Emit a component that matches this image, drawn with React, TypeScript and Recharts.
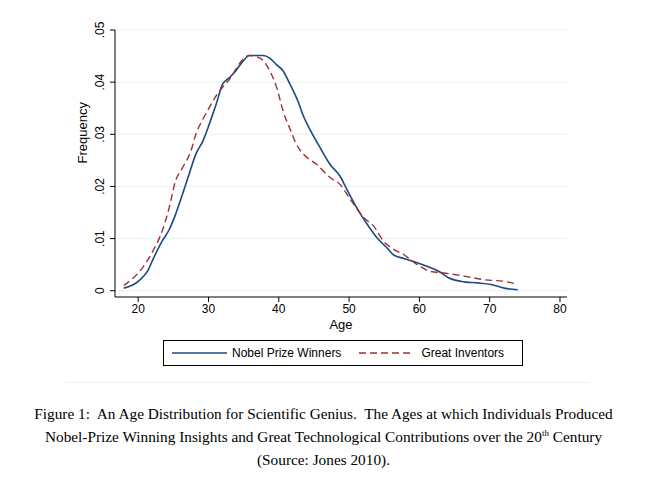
import React from "react";
import { LineChart, Line, XAxis, YAxis, CartesianGrid } from "recharts";

const nobelAge = [17.95,20.1,21.3,22.2,23.4,24.4,25.3,26.3,27.3,28.2,29.2,30.1,31.1,32.0,33.0,33.9,34.9,35.8,36.8,37.8,38.7,39.7,40.6,41.6,42.8,43.5,44.4,45.9,47.3,48.7,49.7,51.1,52.6,54.0,55.4,56.4,57.8,59.2,61.1,62.8,64.0,66.4,68.3,70.2,72.1,74.0];
const nobelFreq = [.0005,.0019,.0037,.0063,.0095,.0117,.0146,.0185,.0226,.0262,.0287,.0319,.0358,.0396,.0409,.0422,.044,.0451,.0451,.0451,.0446,.0433,.0422,.0396,.0361,.0335,.031,.0274,.0242,.022,.0194,.0159,.0127,.0101,.0082,.0068,.0062,.0056,.0047,.0037,.0026,.0017,.0015,.0012,.0005,.0002];
const invAge = [17.95,20.6,22.2,23.4,24.4,25.3,26.3,27.5,28.2,29.2,30.1,31.1,32.0,33.0,33.9,34.9,35.8,36.8,37.8,38.7,39.7,40.6,41.6,42.5,43.5,45.4,47.3,48.7,50.2,52.1,53.5,54.9,56.4,57.8,59.7,61.6,63.5,66.4,69.3,72.1,74.0];
const invFreq = [.001,.0044,.0079,.0114,.0159,.021,.0236,.0268,.03,.0329,.0351,.0374,.039,.0406,.0425,.0444,.0451,.0449,.0441,.0422,.039,.0345,.031,.0281,.0262,.0242,.0217,.0204,.0175,.014,.0124,.0095,.0079,.0069,.005,.0037,.0034,.0028,.0021,.0018,.0012];
const xTicks = [20, 30, 40, 50, 60, 70, 80];
const yTicks = [0, 0.01, 0.02, 0.03, 0.04, 0.05];
const yLabels = ["0", ".01", ".02", ".03", ".04", ".05"];

const nobel = nobelAge.map((a, i) => ({ age: a, f: nobelFreq[i] }));
const inv = invAge.map((a, i) => ({ age: a, f: invFreq[i] }));

const YTick = (p: any) => {
  const i = yTicks.findIndex((t) => Math.abs(t - p.payload.value) < 1e-9);
  return (
    <text x={p.x - 4} y={p.y} transform={`rotate(-90 ${p.x - 4} ${p.y})`} textAnchor="middle" fontSize={12} fontFamily="Liberation Sans, Arial" fill="#000">
      {yLabels[i]}
    </text>
  );
};

export default function App() {
  return (
    <div style={{ position: "absolute", left: 0, top: 0, width: 647, height: 481, background: "#fff", fontFamily: "Liberation Serif, Times New Roman, serif" }}>
      <LineChart width={647} height={340} margin={{ top: 30, right: 80, bottom: 3, left: 70 }}>
        <CartesianGrid horizontal vertical={false} stroke="#e8f0f0" horizontalValues={yTicks} />
        <XAxis type="number" dataKey="age" domain={[16.7, 81]} ticks={xTicks} allowDataOverflow height={40}
          stroke="#000" tick={{ fontSize: 12, fill: "#000", fontFamily: "Liberation Sans, Arial" }} tickSize={5}
          label={{ value: "Age", position: "insideBottom", offset: 8, fontSize: 13, fill: "#000", fontFamily: "Liberation Sans, Arial" }} />
        <YAxis type="number" domain={[-0.0012, 0.05]} ticks={yTicks} allowDataOverflow width={45}
          stroke="#000" tick={<YTick />} tickSize={5}
          label={{ value: "Frequency", angle: -90, position: "insideLeft", offset: 12, fontSize: 13, fill: "#000", fontFamily: "Liberation Sans, Arial" }} />
        <Line data={nobel} dataKey="f" stroke="#1a4a80" strokeWidth={1.6} dot={false} isAnimationActive={false} type="monotone" />
        <Line data={inv} dataKey="f" stroke="#a03030" strokeWidth={1.4} strokeDasharray="7 4" dot={false} isAnimationActive={false} type="monotone" />
      </LineChart>
      <div style={{ position: "absolute", left: 163, top: 340, width: 360, height: 26, border: "1px solid #000", boxSizing: "border-box", display: "flex", alignItems: "center", fontFamily: "Liberation Sans, Arial", fontSize: 12 }}>
        <svg width={60} height={10} style={{ marginLeft: 8 }}><line x1={0} y1={5} x2={55} y2={5} stroke="#1a4a80" strokeWidth={1.6} /></svg>
        <span>Nobel Prize Winners</span>
        <svg width={62} height={10} style={{ marginLeft: 18 }}><line x1={0} y1={5} x2={55} y2={5} stroke="#a03030" strokeWidth={1.4} strokeDasharray="7 4" /></svg>
        <span>Great Inventors</span>
      </div>
      <div style={{ position: "absolute", left: 65, top: 382, width: 525, height: 1, background: "#eeeeee" }} />
      <div style={{ position: "absolute", left: 0, top: 402, width: 647, textAlign: "center", fontSize: 15.3, lineHeight: "23px", color: "#000" }}>
        Figure 1:&nbsp; An Age Distribution for Scientific Genius.&nbsp; The Ages at which Individuals Produced<br />
        Nobel-Prize Winning Insights and Great Technological Contributions over the 20<sup style={{ fontSize: 9, lineHeight: 0 }}>th</sup> Century<br />
        (Source: Jones 2010).
      </div>
    </div>
  );
}
